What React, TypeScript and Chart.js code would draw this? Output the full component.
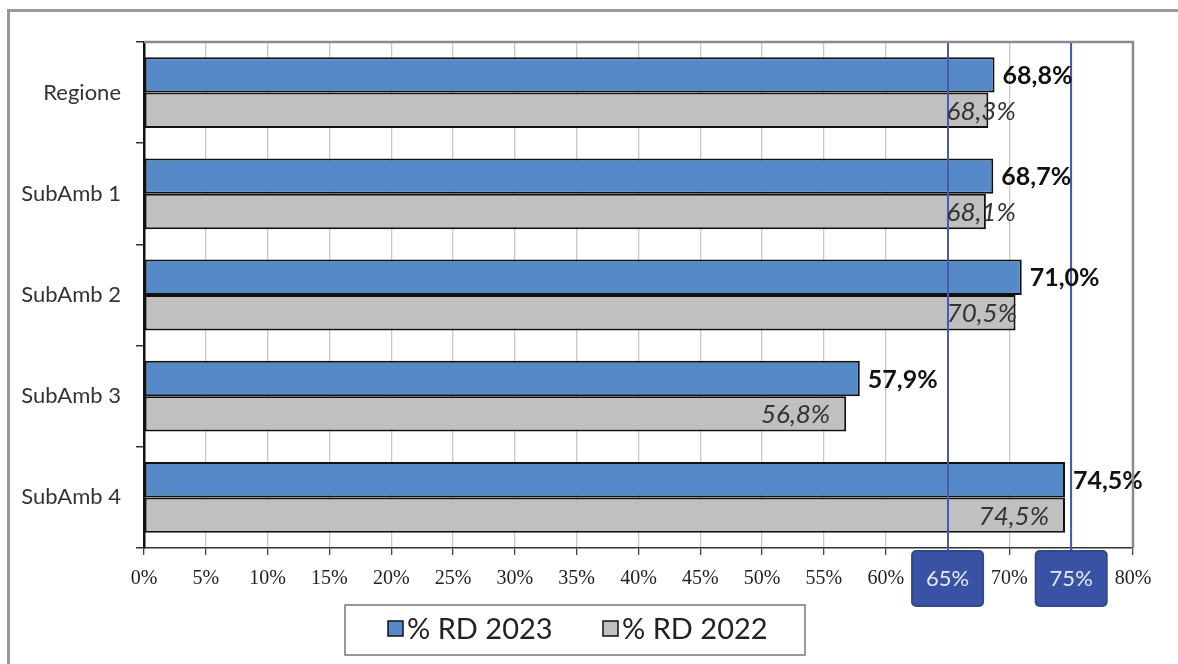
import React, { useEffect, useRef } from "react";
import { Chart, registerables } from "chart.js";

Chart.register(...registerables);

// Areas and yearly RD percentages
const categories = ["Regione", "SubAmb 1", "SubAmb 2", "SubAmb 3", "SubAmb 4"];
const rd2023 = [68.8, 68.7, 71.0, 57.9, 74.5];
const rd2022 = [68.3, 68.1, 70.5, 56.8, 74.5];
const seriesNames = ["% RD 2023", "% RD 2022"];
// Target thresholds marked on the x axis
const thresholds = [65, 75];
const xMax = 80;
const xStep = 5;

const BLUE = "#5589c7";
const GREY = "#c0c0c0";
const SANS = "Lato, 'Noto Sans', sans-serif";
const SERIF = "'Liberation Serif', serif";

const fmt = (v: number) => v.toFixed(1).replace(".", ",") + "%";

const overlayPlugin = {
  id: "overlay",
  beforeDraw(chart: any) {
    const { ctx, width, height } = chart;
    ctx.save();
    ctx.fillStyle = "#ffffff";
    ctx.fillRect(0, 0, width, height);
    ctx.restore();
  },
  afterDatasetsDraw(chart: any) {
    const { ctx, chartArea } = chart;
    const xs = chart.scales.x;
    ctx.save();
    // threshold lines
    ctx.strokeStyle = "#4a5ab4";
    ctx.lineWidth = 2;
    thresholds.forEach((t) => {
      const x = Math.round(xs.getPixelForValue(t));
      ctx.beginPath();
      ctx.moveTo(x, chartArea.top);
      ctx.lineTo(x, chartArea.bottom + 4);
      ctx.stroke();
    });

    // value labels: 2023 after the bar end, 2022 inside the bar end
    // (kept to the right of the first threshold line when the bar crosses it)
    const firstLine = xs.getPixelForValue(thresholds[0]) - 1;
    const m0 = chart.getDatasetMeta(0);
    const m1 = chart.getDatasetMeta(1);
    ctx.textBaseline = "middle";
    m0.data.forEach((bar: any, i: number) => {
      ctx.font = `bold 25px ${SANS}`;
      ctx.fillStyle = "#111111";
      ctx.textAlign = "left";
      ctx.fillText(fmt(rd2023[i]), bar.x + 8, bar.y + 1);
    });
    m1.data.forEach((bar: any, i: number) => {
      ctx.font = `italic 26px ${SANS}`;
      ctx.fillStyle = "#333333";
      ctx.textAlign = "left";
      const txt = fmt(rd2022[i]);
      const w = ctx.measureText(txt).width;
      let left = bar.x - 16 - w;
      if (bar.x > firstLine) left = Math.max(left, firstLine);
      ctx.fillText(txt, left, bar.y + 1);
    });
    ctx.restore();
  },
  afterDraw(chart: any) {
    const { ctx, chartArea, width, height } = chart;
    const xs = chart.scales.x;
    ctx.save();

    // plot area frame (top and right)
    ctx.strokeStyle = "#8a8a8a";
    ctx.lineWidth = 2.5;
    ctx.beginPath();
    ctx.moveTo(chartArea.left, chartArea.top);
    ctx.lineTo(chartArea.right, chartArea.top);
    ctx.lineTo(chartArea.right, chartArea.bottom);
    ctx.stroke();

    // threshold badges on the axis
    thresholds.forEach((t) => {
      const cx = xs.getPixelForValue(t);
      const bw = 71;
      const bh = 55;
      const bx = cx - bw / 2;
      const by = chartArea.bottom + 3;
      ctx.beginPath();
      ctx.roundRect(bx, by, bw, bh, 4);
      ctx.fillStyle = "#3a52a4";
      ctx.fill();
      ctx.strokeStyle = "#2f4a8c";
      ctx.lineWidth = 2;
      ctx.stroke();
      ctx.fillStyle = "#e6eaf6";
      ctx.font = `22px ${SANS}`;
      ctx.textAlign = "center";
      ctx.textBaseline = "middle";
      ctx.fillText(`${t}%`, cx, by + bh / 2);
    });

    // legend
    const lx = 345, ly = 605, lw = 460, lh = 50;
    ctx.strokeStyle = "#777777";
    ctx.lineWidth = 1.5;
    ctx.strokeRect(lx, ly, lw, lh);
    const items = [
      { x: 388, color: BLUE, label: seriesNames[0] },
      { x: 603, color: GREY, label: seriesNames[1] },
    ];
    items.forEach((it) => {
      ctx.fillStyle = it.color;
      ctx.fillRect(it.x, 621, 15, 15);
      ctx.strokeStyle = "#111111";
      ctx.lineWidth = 1.5;
      ctx.strokeRect(it.x, 621, 15, 15);
      ctx.fillStyle = "#222222";
      ctx.font = `29px ${SANS}`;
      ctx.textAlign = "left";
      ctx.textBaseline = "middle";
      ctx.fillText(it.label, it.x + 19, 630);
    });

    // outer frame
    ctx.strokeStyle = "#9a9a9a";
    ctx.lineWidth = 3;
    ctx.beginPath();
    ctx.moveTo(8.5, height);
    ctx.lineTo(8.5, 10.5);
    ctx.lineTo(width, 10.5);
    ctx.stroke();
    ctx.restore();
  },
};

export default function App() {
  const ref = useRef<HTMLCanvasElement | null>(null);

  useEffect(() => {
    if (!ref.current) return;
    const chart = new Chart(ref.current, {
      type: "bar",
      data: {
        labels: categories,
        datasets: [
          {
            label: seriesNames[0],
            data: rd2023,
            backgroundColor: BLUE,
            borderColor: "#111111",
            borderWidth: 2,
            borderSkipped: false,
            categoryPercentage: 0.7,
            barPercentage: 1,
          },
          {
            label: seriesNames[1],
            data: rd2022,
            backgroundColor: GREY,
            borderColor: "#111111",
            borderWidth: 2,
            borderSkipped: false,
            categoryPercentage: 0.7,
            barPercentage: 1,
          },
        ],
      },
      options: {
        indexAxis: "y",
        animation: false,
        responsive: false,
        layout: { padding: { left: 0, right: 45, top: 42, bottom: 0 } },
        plugins: {
          legend: { display: false },
          tooltip: { enabled: false },
        },
        scales: {
          x: {
            min: 0,
            max: xMax,
            ticks: {
              stepSize: xStep,
              callback: (v: any) => `${v}%`,
              font: { family: SERIF, size: 20 },
              color: "#222222",
              padding: 12,
              maxRotation: 0,
              autoSkip: false,
            },
            grid: {
              color: "#c8c8c8",
              lineWidth: 1.3,
              tickColor: "#444444",
              tickLength: 7,
            },
            border: { color: "#333333", width: 1.5 },
            afterFit: (s: any) => {
              s.height = 116;
            },
          },
          y: {
            grid: {
              drawOnChartArea: false,
              color: "#333333",
              tickLength: 8,
              lineWidth: 1.5,
              offset: true,
            },
            border: { color: "#111111", width: 2.5 },
            ticks: {
              font: { family: SANS, size: 22 },
              color: "#333333",
              padding: 15,
            },
            afterFit: (s: any) => {
              s.width = 144;
            },
          },
        },
      },
      plugins: [overlayPlugin],
    });
    return () => chart.destroy();
  }, []);

  return (
    <div style={{ position: "fixed", left: 0, top: 0, width: 1178, height: 664 }}>
      <canvas ref={ref} width={1178} height={664} />
    </div>
  );
}
